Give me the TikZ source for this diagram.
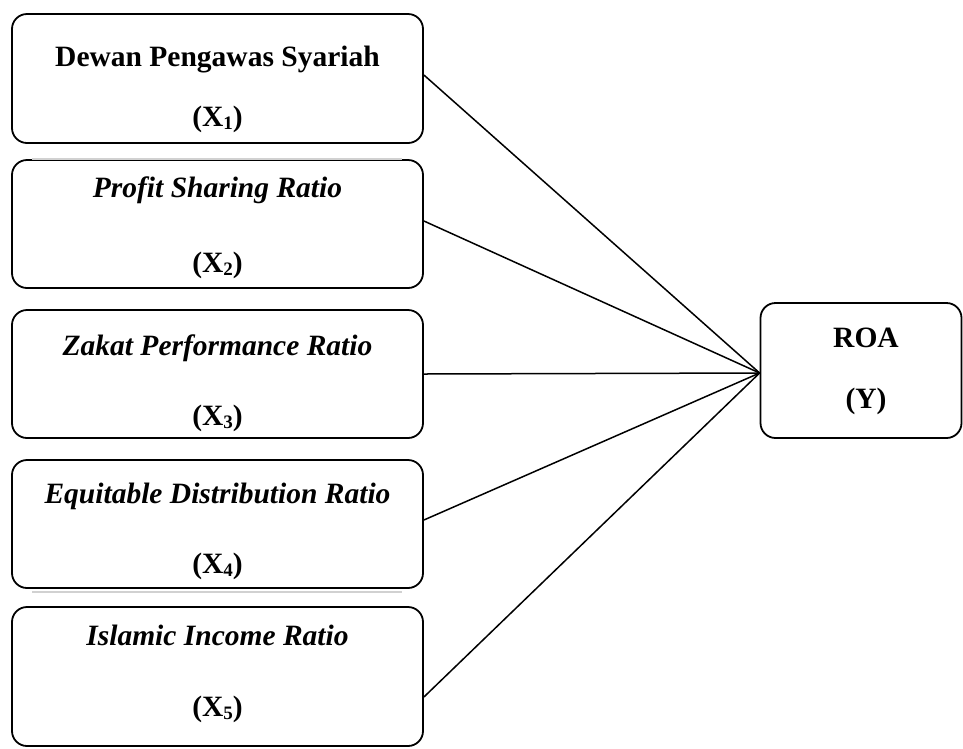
\documentclass[tikz,border=0pt]{standalone}
\usepackage{fontspec}
\setmainfont{Liberation Serif}
\newcommand{\subx}[1]{\raisebox{-3.5pt}{\fontsize{19}{19}\selectfont #1}}
\begin{document}
\begin{tikzpicture}[x=1pt,y=-1pt,
  box/.style={draw=black,line width=1.8pt,rounded corners=15pt,inner sep=0pt},
  lbl/.style={anchor=base,inner sep=0pt,font=\fontsize{29.5}{35}\selectfont\bfseries},
  conn/.style={draw=black,line width=1.5pt},
  faint/.style={draw=black!18,line width=1.5pt}]
\useasboundingbox (0,0) rectangle (963,748);
% boxes
\node[box,minimum width=411pt,minimum height=129pt] (b1) at (217.5,78.5) {};
\node[box,minimum width=411pt,minimum height=128pt] (b2) at (217.5,224) {};
\node[box,minimum width=411pt,minimum height=128pt] (b3) at (217.5,374) {};
\node[box,minimum width=411pt,minimum height=128pt] (b4) at (217.5,524) {};
\node[box,minimum width=411pt,minimum height=139pt] (b5) at (217.5,676.5) {};
\node[box,minimum width=201pt,minimum height=135pt] (roa) at (861,370.5) {};
% faint artefact lines
\coordinate (g1a) at (32,159); \coordinate (g1b) at (402,159);
\coordinate (g2a) at (32,592); \coordinate (g2b) at (402,592);
\draw[faint] (g1a) -- (g1b);
\draw[faint] (g2a) -- (g2b);
% texts
\node[lbl] (t1a) at (217.5,66) {Dewan Pengawas Syariah};
\node[lbl] (t1b) at (217.5,126) {(X\subx{1})};
\node[lbl] (t2a) at (217.5,197) {\itshape Profit Sharing Ratio};
\node[lbl] (t2b) at (217.5,272) {(X\subx{2})};
\node[lbl] (t3a) at (217.5,355) {\itshape Zakat Performance Ratio};
\node[lbl] (t3b) at (217.5,425) {(X\subx{3})};
\node[lbl] (t4a) at (217.5,503) {\itshape Equitable Distribution Ratio};
\node[lbl] (t4b) at (217.5,573) {(X\subx{4})};
\node[lbl] (t5a) at (217.5,645) {\itshape Islamic Income Ratio};
\node[lbl] (t5b) at (217.5,716) {(X\subx{5})};
\node[lbl] (ty1) at (866,347) {ROA};
\node[lbl] (ty2) at (866,408) {(Y)};
% connectors
\coordinate (c1) at ([yshift=3.5pt]b1.east);
\coordinate (c2) at ([yshift=3pt]b2.east);
\coordinate (c3) at (b3.east);
\coordinate (c4) at ([yshift=4pt]b4.east);
\coordinate (c5) at ([yshift=-20.5pt]b5.east);
\coordinate (cy) at ([yshift=-2.5pt]roa.west);
\draw[conn] (c1) -- (cy);
\draw[conn] (c2) -- (cy);
\draw[conn] (c3) -- (cy);
\draw[conn] (c4) -- (cy);
\draw[conn] (c5) -- (cy);
\end{tikzpicture}
\end{document}
